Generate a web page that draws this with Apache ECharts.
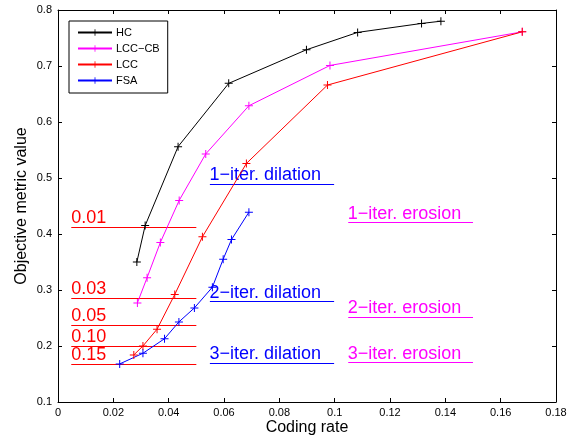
<!DOCTYPE html>
<html>
<head>
<meta charset="utf-8">
<script src="https://cdn.jsdelivr.net/npm/echarts@6/dist/echarts.min.js"></script>
<style>
  html, body { margin: 0; padding: 0; background: #fff; }
  #chart { width: 570px; height: 441px; }
</style>
</head>
<body>
<div id="chart"></div>
<script>
// Objective metric value against coding rate for four methods
const seriesNames = ['HC', 'LCC\u2212CB', 'LCC', 'FSA'];
const seriesColors = ['#000000', '#ff00ff', '#ff0000', '#0000ff'];

const hcRate = [0.0285, 0.0315, 0.0434, 0.0617, 0.0898, 0.1083, 0.1314, 0.1384];
const hcValue = [0.350, 0.415, 0.556, 0.669, 0.729, 0.760, 0.776, 0.780];

const lccCbRate = [0.0287, 0.0322, 0.0370, 0.0438, 0.0534, 0.0690, 0.0983, 0.1678];
const lccCbValue = [0.277, 0.322, 0.385, 0.460, 0.543, 0.629, 0.701, 0.761];

const lccRate = [0.0274, 0.0307, 0.0358, 0.0422, 0.0522, 0.0681, 0.0974, 0.1678];
const lccValue = [0.184, 0.200, 0.230, 0.292, 0.395, 0.526, 0.666, 0.761];

const fsaRate = [0.0223, 0.0307, 0.0385, 0.0437, 0.0493, 0.0558, 0.0597, 0.0627, 0.0690];
const fsaValue = [0.168, 0.187, 0.213, 0.243, 0.268, 0.305, 0.355, 0.390, 0.439];

// Threshold guides (red) with their labels
const thresholdLabels = ['0.01', '0.03', '0.05', '0.10', '0.15'];
const thresholdLevels = [0.412, 0.285, 0.237, 0.200, 0.168];
const thresholdSpan = [0.0048, 0.0500];

// Underlined annotations
const dilationLabels = ['1\u2212iter. dilation', '2\u2212iter. dilation', '3\u2212iter. dilation'];
const dilationLevels = [0.4893, 0.2791, 0.1696];
const dilationSpan = [0.0549, 0.0998];

const erosionLabels = ['1\u2212iter. erosion', '2\u2212iter. erosion', '3\u2212iter. erosion'];
const erosionLevels = [0.4209, 0.2518, 0.1702];
const erosionSpan = [0.1049, 0.1500];

const xTicks = { min: 0, max: 0.18, step: 0.02 };
const yTicks = { min: 0.1, max: 0.8, step: 0.1 };

const FONT = 'Liberation Sans, Arial, Helvetica, sans-serif';
const PLUS = 'path://M3.5,0H4.5V3.5H8V4.5H4.5V8H3.5V4.5H0V3.5H3.5Z';

function pairs(xs, ys) { return xs.map((x, i) => [x, ys[i]]); }

function segments(labels, levels, span, color, size, dist) {
  return labels.map((text, i) => [
    {
      coord: [span[0], levels[i]],
      label: {
        show: true, formatter: text, position: 'insideStartTop',
        color: color, fontSize: size, fontFamily: FONT, distance: dist, padding: 0
      },
      lineStyle: { color: color, width: 1, type: 'solid' }
    },
    { coord: [span[1], levels[i]] }
  ]);
}

function lineSeries(name, color, data, extraMarks) {
  const s = {
    name: name, type: 'line', data: data, color: color,
    symbol: PLUS, symbolSize: 8,
    lineStyle: { color: color, width: 1 },
    itemStyle: { color: color },
    animation: false, z: 3
  };
  if (extraMarks) {
    s.markLine = {
      silent: true, symbol: ['none', 'none'], animation: false,
      data: extraMarks, z: 2
    };
  }
  return s;
}

const chart = echarts.init(document.getElementById('chart'), null, { renderer: 'canvas' });

const tickFmt = v => String(+v.toFixed(2));

const option = {
  backgroundColor: '#ffffff',
  animation: false,
  textStyle: { fontFamily: FONT },
  grid: { left: 58, right: 14, top: 10, bottom: 39, show: false, containLabel: false, outerBoundsMode: 'none' },
  legend: {
    orient: 'vertical', left: 69, top: 21,
    data: seriesNames,
    padding: [6, 8, 7, 8],
    itemWidth: 34, itemHeight: 8, itemGap: 5,
    borderColor: '#000', borderWidth: 1, borderRadius: 0,
    backgroundColor: '#fff',
    itemStyle: { borderWidth: 0 },
    textStyle: { fontSize: 11, color: '#000', fontFamily: FONT, padding: [0, 0, 0, -1] }
  },
  xAxis: [
    {
      type: 'value', min: xTicks.min, max: xTicks.max, interval: xTicks.step,
      name: 'Coding rate', nameLocation: 'middle', nameGap: 18, nameMoveOverlap: false,
      nameTextStyle: { fontSize: 16, color: '#000', fontFamily: FONT },
      axisLine: { onZero: false, lineStyle: { color: '#000', width: 1 } },
      axisTick: { inside: true, length: 4, lineStyle: { color: '#000' } },
      axisLabel: { color: '#000', fontSize: 11, margin: 5, formatter: tickFmt },
      splitLine: { show: false }
    },
    {
      type: 'value', position: 'top', min: xTicks.min, max: xTicks.max, interval: xTicks.step,
      axisLine: { onZero: false, lineStyle: { color: '#000', width: 1 } },
      axisTick: { inside: true, length: 4, lineStyle: { color: '#000' } },
      axisLabel: { show: false }, splitLine: { show: false }
    }
  ],
  yAxis: [
    {
      type: 'value', min: yTicks.min, max: yTicks.max, interval: yTicks.step,
      name: 'Objective metric value', nameLocation: 'middle', nameGap: 28, nameMoveOverlap: false,
      nameTextStyle: { fontSize: 16, color: '#000', fontFamily: FONT },
      axisLine: { show: true, onZero: false, lineStyle: { color: '#000', width: 1 } },
      axisTick: { show: true, inside: true, length: 4, lineStyle: { color: '#000' } },
      axisLabel: { color: '#000', fontSize: 11, margin: 6, formatter: tickFmt },
      splitLine: { show: false }
    },
    {
      type: 'value', position: 'right', min: yTicks.min, max: yTicks.max, interval: yTicks.step,
      axisLine: { show: true, onZero: false, lineStyle: { color: '#000', width: 1 } },
      axisTick: { show: true, inside: true, length: 4, lineStyle: { color: '#000' } },
      axisLabel: { show: false }, splitLine: { show: false }
    }
  ],
  series: [
    lineSeries(seriesNames[0], seriesColors[0], pairs(hcRate, hcValue)),
    lineSeries(seriesNames[1], seriesColors[1], pairs(lccCbRate, lccCbValue),
      segments(erosionLabels, erosionLevels, erosionSpan, '#ff00ff', 18, -0.5)),
    lineSeries(seriesNames[2], seriesColors[2], pairs(lccRate, lccValue),
      segments(thresholdLabels, thresholdLevels, thresholdSpan, '#ff0000', 18, 0)),
    lineSeries(seriesNames[3], seriesColors[3], pairs(fsaRate, fsaValue),
      segments(dilationLabels, dilationLevels, dilationSpan, '#0000ff', 18, -0.5))
  ]
};

chart.setOption(option);
</script>
</body>
</html>
